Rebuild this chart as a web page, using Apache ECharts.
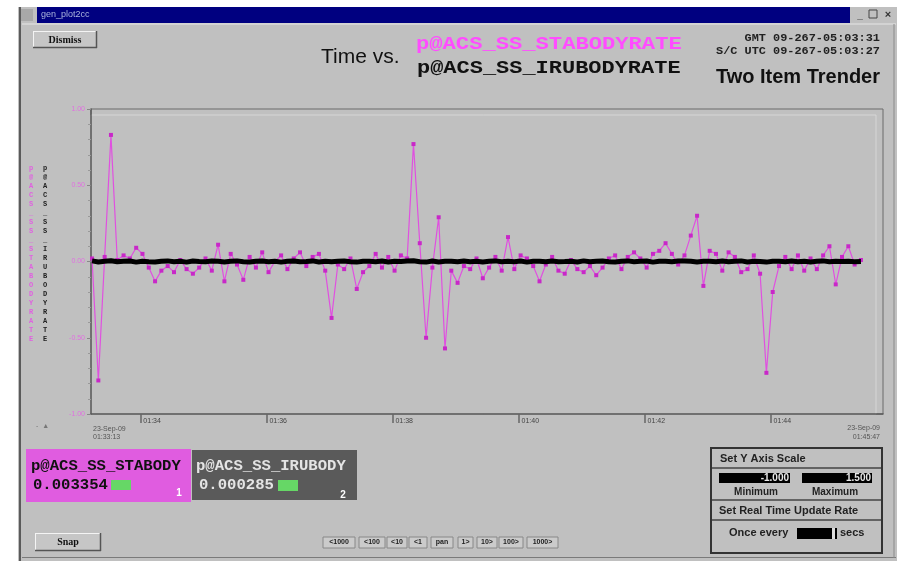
<!DOCTYPE html>
<html>
<head>
<meta charset="utf-8">
<script src="https://cdn.jsdelivr.net/npm/echarts@6/dist/echarts.min.js"></script>
<style>
  html, body { margin: 0; padding: 0; background: #ffffff; }
  #chart { width: 897px; height: 561px; }
</style>
</head>
<body>
<div id="chart"></div>
<script>
// Item names
const itemA = 'p@ACS_SS_STABODYRATE';
const itemB = 'p@ACS_SS_IRUBODYRATE';

// Sample times, seconds after 01:30:00 on 23-Sep-09
const sampleTimes = [
  194,200,206,212,218,224,230,236,242,248,
  254,260,266,272,278,284,290,296,302,308,
  314,320,326,332,338,344,350,356,362,368,
  374,380,386,392,398,404,410,416,422,428,
  434,440,446,452,458,464,470,476,482,488,
  494,500,506,512,518,524,530,536,542,548,
  554,560,566,572,578,584,590,596,602,608,
  614,620,626,632,638,644,650,656,662,668,
  674,680,686,692,698,704,710,716,722,728,
  734,740,746,752,758,764,770,776,782,788,
  794,800,806,812,818,824,830,836,842,848,
  854,860,866,872,878,884,890,896,902,908,
  914,920,926
];

// STA body rate samples
const staRate = [
  0.02,-0.78,0.03,0.83,0.01,0.04,0.02,0.09,0.05,-0.04,
  -0.13,-0.06,-0.03,-0.07,0.01,-0.05,-0.08,-0.04,0.02,-0.06,
  0.11,-0.13,0.05,-0.02,-0.12,0.03,-0.04,0.06,-0.07,0.00,
  0.04,-0.05,0.02,0.06,-0.03,0.03,0.05,-0.06,-0.37,-0.02,
  -0.05,0.02,-0.18,-0.07,-0.03,0.05,-0.04,0.03,-0.06,0.04,
  0.02,0.77,0.12,-0.50,-0.04,0.29,-0.57,-0.06,-0.14,-0.03,
  -0.05,0.02,-0.11,-0.04,0.03,-0.06,0.16,-0.05,0.04,0.02,
  -0.03,-0.13,-0.02,0.03,-0.06,-0.08,0.01,-0.05,-0.07,-0.03,
  -0.09,-0.04,0.02,0.04,-0.05,0.03,0.06,0.02,-0.04,0.05,
  0.07,0.12,0.05,-0.02,0.04,0.17,0.30,-0.16,0.07,0.05,
  -0.06,0.06,0.03,-0.07,-0.05,0.04,-0.08,-0.73,-0.20,-0.03,
  0.03,-0.05,0.04,-0.06,0.02,-0.05,0.04,0.10,-0.15,0.03,
  0.10,-0.02,0.01
];

// IRU body rate samples
const iruRate = [
  0.004,-0.003,0.002,0.005,-0.002,0.001,0.003,-0.004,0.002,-0.001,
  -0.003,0.002,0.004,-0.002,0.001,-0.004,0.003,0.000,-0.002,0.003,
  0.002,-0.003,0.001,0.004,-0.001,-0.003,0.002,0.003,-0.002,0.001,
  -0.004,0.002,0.003,-0.001,0.000,0.004,-0.003,0.002,-0.002,0.001,
  0.003,-0.002,-0.004,0.001,0.002,-0.001,0.003,-0.003,0.002,0.000,
  0.004,0.005,-0.002,-0.004,0.003,-0.003,0.001,0.002,-0.002,0.003,
  -0.001,0.002,-0.003,0.001,0.004,-0.002,0.002,-0.001,0.003,-0.004,
  0.001,0.002,-0.002,0.003,-0.001,0.000,0.002,-0.003,0.004,-0.002,
  0.001,0.003,-0.001,-0.003,0.002,0.004,-0.002,0.001,0.003,-0.004,
  0.002,0.001,-0.002,0.003,0.004,0.002,-0.003,0.001,0.002,-0.001,
  0.003,-0.002,0.001,0.004,-0.003,0.002,0.000,-0.004,0.002,0.001,
  -0.002,0.003,-0.001,0.002,-0.003,0.001,0.004,-0.002,0.002,0.000,
  0.001,-0.001,0.000
];

// Axis setup
const timeStart = 193;   // 01:33:13
const timeEnd = 947;     // 01:45:47
const timeTicks = [240, 360, 480, 600, 720, 840];
const yMin = -1.0, yMax = 1.0, yStep = 0.5;

// Latest readouts
const latestA = '0.003354';
const latestB = '0.000285';
const scaleMinText = '-1.000';
const scaleMaxText = '1.500';
const gmtText = 'GMT 09-267-05:03:31';
const scText = 'S/C UTC 09-267-05:03:27';
const stepButtons = ['<1000', '<100', '<10', '<1', 'pan', '1>', '10>', '100>', '1000>'];

const pad = n => String(n).padStart(2, '0');
function clock(sec, withSeconds) {
  const total = 90 * 60 + sec;               // seconds past midnight
  const h = Math.floor(total / 3600);
  const m = Math.floor((total % 3600) / 60);
  const s = total % 60;
  return pad(h) + ':' + pad(m) + (withSeconds ? ':' + pad(s) : '');
}

const SANS = '"Liberation Sans", Arial, sans-serif';
const MONO = '"Liberation Mono", "DejaVu Sans Mono", monospace';
const SERIF = '"Liberation Serif", serif';

const g = [];
function rect(x, y, w, h, fill, stroke, lw) {
  g.push({ type: 'rect', shape: { x, y, width: w, height: h },
    style: { fill: fill || 'none', stroke: stroke || null, lineWidth: lw || 1 }, silent: true });
}
function line(x1, y1, x2, y2, color, lw) {
  g.push({ type: 'line', shape: { x1, y1, x2, y2 },
    style: { stroke: color, lineWidth: lw || 1 }, silent: true });
}
function text(x, y, str, font, fill, align, extra) {
  const el = { type: 'text', x, y, silent: true,
    style: { text: str, font, fill, align: align || 'left', verticalAlign: 'middle' } };
  if (extra) {
    if (extra.scaleX) el.scaleX = extra.scaleX;
    if (extra.lineHeight) el.style.lineHeight = extra.lineHeight;
  }
  g.push(el);
}
function button(x, y, w, h, label, font) {
  rect(x, y, w, h, '#c6c6c6');
  line(x, y + 0.5, x + w, y + 0.5, '#f4f4f4', 1);
  line(x + 0.5, y, x + 0.5, y + h, '#f4f4f4', 1);
  line(x, y + h - 0.5, x + w, y + h - 0.5, '#555', 1.5);
  line(x + w - 0.5, y, x + w - 0.5, y + h, '#555', 1.5);
  text(x + w / 2, y + h / 2 + 0.5, label, font, '#111', 'center');
}

// Window frame around the gray body
rect(0, 0, 18, 561, '#ffffff');
rect(0, 0, 897, 7, '#ffffff');
rect(37, 7, 813, 16, '#000080');
rect(21, 9, 12, 12, '#a8a8a8');
text(41, 15, 'gen_plot2cc', '9px ' + SANS, '#aab4dc');
text(860, 15, '_', 'bold 10px ' + SANS, '#333', 'center');
rect(869, 10, 8, 8, 'none', '#444', 1);
text(888, 15, '×', 'bold 11px ' + SANS, '#333', 'center');
line(20, 7, 20, 561, '#5a5a5a', 2);
line(22, 24, 896, 24, '#e6e6e6', 1);
line(22, 557.5, 896, 557.5, '#7a7a7a', 1);
line(894, 24, 894, 558, '#8a8a8a', 1);

// Header
button(33, 31, 64, 17, 'Dismiss', 'bold 10px ' + SERIF);
text(321, 57, 'Time vs.', '20px ' + SANS, '#111', 'left', { scaleX: 1.05 });
text(416, 44, itemA, 'bold 18px ' + MONO, '#ff4cff', 'left', { scaleX: 1.23 });
text(417, 68, itemB, 'bold 18px ' + MONO, '#111', 'left', { scaleX: 1.22 });
text(880, 38, gmtText, 'bold 11px ' + MONO, '#222', 'right', { scaleX: 1.08 });
text(880, 51, scText, 'bold 11px ' + MONO, '#222', 'right', { scaleX: 1.08 });
text(880, 77, 'Two Item Trender', 'bold 20px ' + SANS, '#111', 'right');

// Vertical item names beside the value axis
text(31, 254, itemA.split('').join('\n'), 'bold 7px ' + MONO, '#e060e0', 'center', { lineHeight: 9 });
text(45, 254, itemB.split('').join('\n'), 'bold 7px ' + MONO, '#222', 'center', { lineHeight: 9 });
text(36, 426, '-  ▲', '7px ' + SANS, '#777');

// Inner plot frame
rect(91, 115, 785, 299, 'none', '#d6d6d6', 1);

// Time range ends
text(93, 429, '23-Sep-09', '7px ' + SANS, '#555');
text(93, 437, clock(timeStart, true), '7px ' + SANS, '#555');
text(880, 428, '23-Sep-09', '7px ' + SANS, '#555', 'right');
text(880, 437, clock(timeEnd, true), '7px ' + SANS, '#555', 'right');

// Item readout panels
rect(26, 449, 165, 53, '#e05ce0');
text(31, 466, 'p@ACS_SS_STABODY', 'bold 15px ' + MONO, '#111', 'left', { scaleX: 1.04 });
text(33, 485, latestA, 'bold 15px ' + MONO, '#111', 'left', { scaleX: 1.04 });
rect(111, 480, 20, 10, '#66d766');
text(179, 493, '1', 'bold 10px ' + SANS, '#ffffff', 'center');

rect(192, 450, 165, 50, '#5a5a5a');
text(196, 466, 'p@ACS_SS_IRUBODY', 'bold 15px ' + MONO, '#e4e4e4', 'left', { scaleX: 1.04 });
text(199, 485, latestB, 'bold 15px ' + MONO, '#e4e4e4', 'left', { scaleX: 1.04 });
rect(278, 480, 20, 11, '#66d766');
text(343, 495, '2', 'bold 10px ' + SANS, '#ffffff', 'center');

// Bottom controls
button(35, 533, 66, 18, 'Snap', 'bold 10px ' + SERIF);
const stepBoxes = [[323, 32], [359, 26], [387, 20], [409, 18], [431, 22], [458, 15], [477, 20], [499, 24], [527, 31]];
stepButtons.forEach((lbl, i) => {
  const [bx, bw] = stepBoxes[i];
  rect(bx, 537, bw, 11, '#cbcbcb', '#888', 1);
  text(bx + bw / 2, 542.5, lbl, 'bold 7px ' + SANS, '#222', 'center');
});

// Scale panel
rect(711, 448, 171, 105, 'none', '#333', 2);
line(712, 468, 881, 468, '#444', 1.5);
line(712, 500, 881, 500, '#444', 1.5);
line(712, 520, 881, 520, '#444', 1.5);
text(720, 459, 'Set Y Axis Scale', 'bold 11px ' + SANS, '#222');
rect(719, 473, 71, 10, '#000');
rect(802, 473, 70, 10, '#000');
text(789, 478.5, scaleMinText, 'bold 10px ' + SANS, '#e8e8e8', 'right');
text(871, 478.5, scaleMaxText, 'bold 10px ' + SANS, '#e8e8e8', 'right');
text(756, 492, 'Minimum', 'bold 10px ' + SANS, '#222', 'center');
text(835, 492, 'Maximum', 'bold 10px ' + SANS, '#222', 'center');
text(719, 511, 'Set Real Time Update Rate', 'bold 11px ' + SANS, '#222');
text(729, 533, 'Once every', 'bold 11px ' + SANS, '#222');
rect(797, 528, 40, 11, '#000');
rect(832, 528, 3, 11, '#dddddd');
text(840, 533, 'secs', 'bold 11px ' + SANS, '#222');

const chart = echarts.init(document.getElementById('chart'), null, { renderer: 'canvas' });
chart.setOption({
  animation: false,
  backgroundColor: '#c0c0c0',
  grid: {
    left: 91, top: 109, right: 14, bottom: 147,
    show: true, borderColor: '#6a6a6a', borderWidth: 1, backgroundColor: 'transparent'
  },
  xAxis: {
    type: 'value',
    min: timeStart, max: timeEnd,
    axisLine: { onZero: false, lineStyle: { color: '#5a5a5a', width: 1.5 } },
    axisTick: { show: true, customValues: timeTicks, length: 9, lineStyle: { color: '#666', width: 1.5 } },
    axisLabel: {
      customValues: timeTicks, formatter: v => clock(v, false),
      align: 'left', color: '#444', fontSize: 7, fontFamily: SANS, margin: 4, padding: [0, 0, 0, 3]
    },
    splitLine: { show: false }
  },
  yAxis: {
    type: 'value',
    min: yMin, max: yMax, interval: yStep,
    axisLine: { show: true, onZero: false, lineStyle: { color: '#5a5a5a', width: 1.5 } },
    axisTick: { show: true, length: 4, lineStyle: { color: '#888' } },
    minorTick: { show: true, splitNumber: 5, length: 3, lineStyle: { color: '#999' } },
    axisLabel: { formatter: v => v.toFixed(2), color: '#e070e0', fontSize: 7, fontFamily: SANS, margin: 6 },
    splitLine: { show: false }
  },
  series: [
    {
      name: itemA, type: 'line', z: 2,
      data: sampleTimes.map((t, i) => [t, staRate[i]]),
      lineStyle: { color: '#e050e0', width: 1.2 },
      symbol: 'rect', symbolSize: 4, showAllSymbol: true,
      itemStyle: { color: '#c828c8' }
    },
    {
      name: itemB, type: 'line', z: 3,
      data: sampleTimes.map((t, i) => [t, iruRate[i]]),
      lineStyle: { color: '#000000', width: 5 },
      symbol: 'none'
    }
  ],
  graphic: g
});
</script>
</body>
</html>
